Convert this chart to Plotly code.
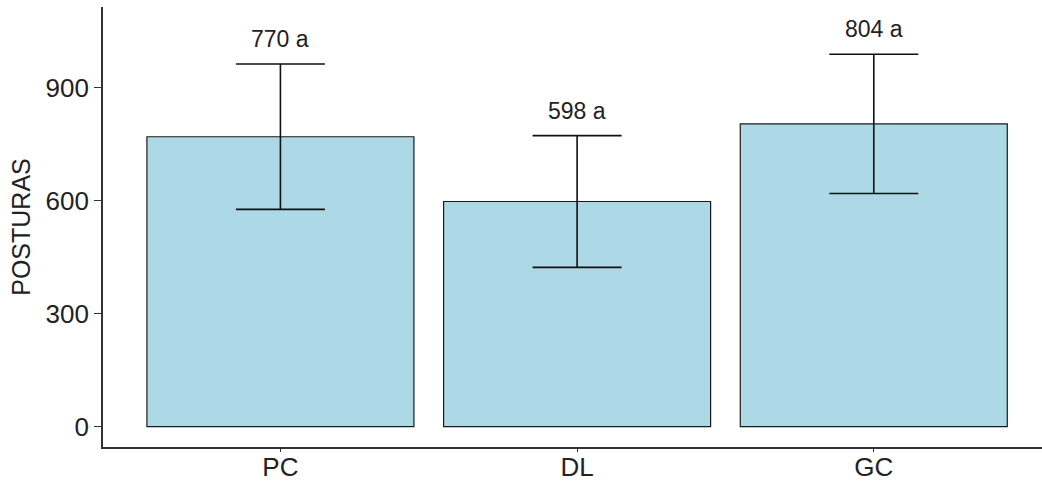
import plotly.graph_objects as go

# Mean number of postures per treatment, with standard deviation and grouping letters
treatments = ["PC", "DL", "GC"]
mean_postures = [770, 598, 804]
sd_postures = [193, 175, 185]
group_letters = ["a", "a", "a"]
y_ticks = [0, 300, 600, 900]

FONT = "Liberation Sans, Arial, sans-serif"
INK = "#222222"

fig = go.Figure()
fig.add_trace(go.Bar(
    x=list(range(len(treatments))),
    y=mean_postures,
    width=0.9,
    marker=dict(color="#ADD8E6", line=dict(color="#1a1a1a", width=1.2)),
    error_y=dict(type="data", array=sd_postures, visible=True,
                 color="#111111", thickness=1.6, width=44.5),
    showlegend=False,
))

# Value labels above each error bar
for i, (m, s, g) in enumerate(zip(mean_postures, sd_postures, group_letters)):
    fig.add_annotation(
        x=i, y=m + s, text=f"{m} {g}", showarrow=False,
        yanchor="middle", yshift=25,
        font=dict(family=FONT, size=23, color=INK),
    )

fig.update_layout(
    width=1042, height=482,
    margin=dict(l=103, r=0, t=7, b=35),
    paper_bgcolor="white", plot_bgcolor="white",
    bargap=0.1,
)
fig.update_xaxes(
    range=[-0.598, 2.567], automargin=False,
    tickvals=list(range(len(treatments))), ticktext=treatments,
    showline=True, linecolor="#333333", linewidth=1.6,
    ticks="outside", ticklen=3, tickcolor="#333333", tickwidth=1.2,
    ticklabelstandoff=-7,
    showgrid=False, zeroline=False,
    tickfont=dict(family=FONT, size=26, color=INK),
)
fig.update_yaxes(
    range=[-54.2, 1114.6], automargin=False,
    tickvals=y_ticks, ticktext=[str(v) for v in y_ticks],
    showline=True, linecolor="#333333", linewidth=1.6,
    ticks="outside", ticklen=7, tickcolor="#333333", tickwidth=1.2,
    showgrid=False, zeroline=False,
    tickfont=dict(family=FONT, size=26, color=INK),
    title=dict(text="POSTURAS", font=dict(family=FONT, size=25, color=INK), standoff=8),
)

fig.write_html("out.html")
